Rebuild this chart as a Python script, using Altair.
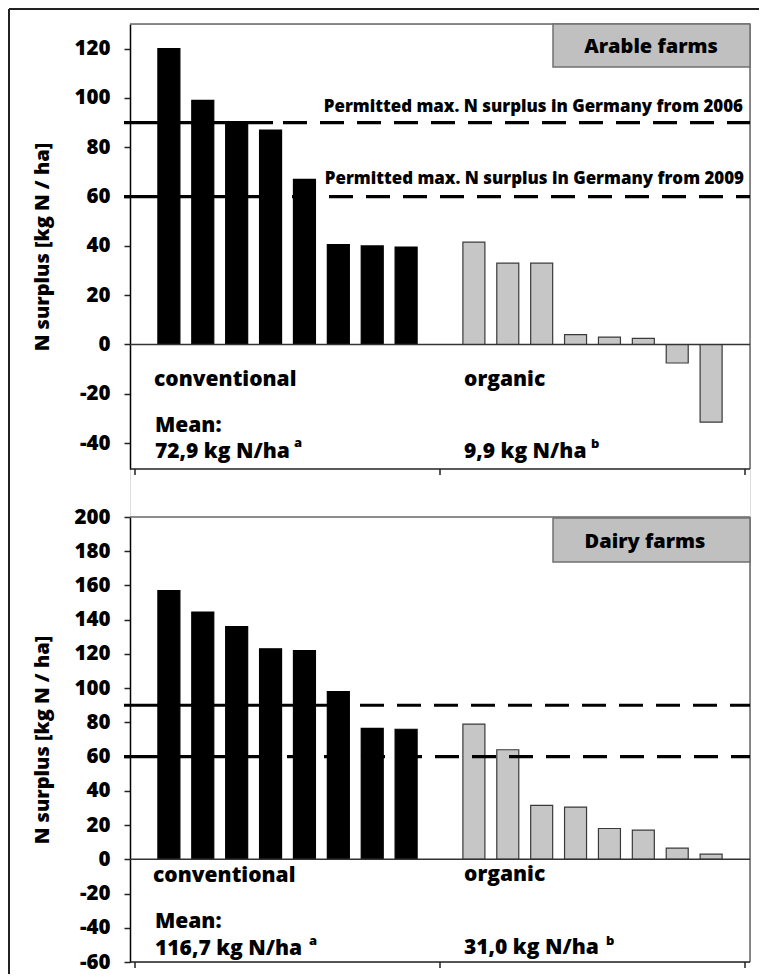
import altair as alt
import pandas as pd

# ---------------- data ----------------
systems = ["conventional", "organic"]
panel_titles = ["Arable farms", "Dairy farms"]

arable_conventional = [120, 99, 90, 87, 67, 40.5, 40, 39.5]
arable_organic = [41.5, 33, 33, 4, 3, 2.5, -7.5, -31.5]
dairy_conventional = [157, 144.5, 136, 123, 122, 98, 76.5, 76]
dairy_organic = [79, 64, 31.5, 30.5, 18, 17, 6.5, 3]

limits = [90, 60]
limit_labels = ["Permitted max. N surplus in Germany from 2006",
                "Permitted max. N surplus in Germany from 2009"]

mean_word = "Mean:"
arable_means = ["72,9 kg N/ha", "9,9 kg N/ha"]
dairy_means = ["116,7 kg N/ha", "31,0 kg N/ha"]
mean_letters = ["a", "b"]

arable_ticks = [-40, -20, 0, 20, 40, 60, 80, 100, 120]
dairy_ticks = [-60, -40, -20, 0, 20, 40, 60, 80, 100, 120, 140, 160, 180, 200]
y_title = "N surplus [kg N / ha]"

FONT = "Open Sans"
WEIGHT = 800
TXT = 21
W, H = 620, 938
TOP_DOM, TOP_RNG = [-50.5, 130], [445, 0]
BOT_DOM, BOT_RNG = [-60, 200], [938, 493]

x_scale = alt.Scale(domain=[-1, 17], nice=False, zero=False)


def yscale(dom, rng):
    return alt.Scale(domain=dom, range=rng, nice=False, zero=False)


def bar_frame(conv, org):
    n = len(conv)
    pos = list(range(n)) + [n + 1 + i for i in range(len(org))]
    return pd.DataFrame({
        "pos": pos,
        "value": conv + org,
        "base": [0] * (len(conv) + len(org)),
        "system": [systems[0]] * len(conv) + [systems[1]] * len(org),
    })


def bars(df, dom, rng, ticks):
    return alt.Chart(df).mark_bar(width=22, strokeWidth=1.2).encode(
        x=alt.X("pos:Q", scale=x_scale, axis=None),
        y=alt.Y("value:Q", scale=yscale(dom, rng),
                axis=alt.Axis(values=ticks, orient="left", title=y_title, grid=False,
                              labelExpr="'' + datum.value",
                              domainColor="black", domainWidth=1.5,
                              tickColor="#222", tickWidth=1.5, tickSize=6,
                              labelFont=FONT, labelFontSize=20.5, labelFontWeight=WEIGHT,
                              labelColor="black", labelPadding=14, labelFlush=False,
                              labelOverlap=False,
                              titleFont=FONT, titleFontSize=20, titleFontWeight=WEIGHT,
                              titleColor="black", titleX=-82, titleBaseline="alphabetic",
                              titleAngle=270)),
        y2="base:Q",
        fill=alt.Fill("system:N", scale=alt.Scale(domain=systems, range=["#000000", "#c6c6c6"]), legend=None),
        stroke=alt.Stroke("system:N", scale=alt.Scale(domain=systems, range=["#000000", "#3a3a3a"]), legend=None),
    )


def hline_data(value, dom, rng, x0, x1, **style):
    return alt.Chart(pd.DataFrame({"v": [value]})).mark_rule(**style).encode(
        x=alt.value(x0), x2=alt.value(x1),
        y=alt.Y("v:Q", scale=yscale(dom, rng), axis=None))


def pix_rule(x0, y0, x1, y1, **style):
    return alt.Chart(pd.DataFrame({"d": [0]})).mark_rule(**style).encode(
        x=alt.value(x0), x2=alt.value(x1), y=alt.value(y0), y2=alt.value(y1))


def label(text, x, y, size, align="left"):
    return alt.Chart(pd.DataFrame({"t": [text]})).mark_text(
        align=align, baseline="alphabetic", font=FONT, fontSize=size,
        fontWeight=WEIGHT, color="black").encode(
        x=alt.value(x), y=alt.value(y), text="t:N")


def box(x0, y0, x1, y1):
    return alt.Chart(pd.DataFrame({"d": [0]})).mark_rect(
        fill="#c0c0c0", stroke="#707070", strokeWidth=1.5).encode(
        x=alt.value(x0), x2=alt.value(x1), y=alt.value(y0), y2=alt.value(y1))


def x_ticks(ybase):
    return alt.Chart(pd.DataFrame({"b": [-1, 8, 17]})).mark_rule(color="#222", strokeWidth=1.5).encode(
        x=alt.X("b:Q", scale=x_scale, axis=None), y=alt.value(ybase), y2=alt.value(ybase + 6))


layers = []

# outer figure frame
layers.append(pix_rule(-121, -15, -121, H + 14, color="#222", strokeWidth=2))
layers.append(pix_rule(-121, -15, W + 20, -15, color="#222", strokeWidth=2))

panels = [
    (arable_conventional, arable_organic, TOP_DOM, TOP_RNG, arable_ticks, arable_means,
     [143, 152], [27, 27]),
    (dairy_conventional, dairy_organic, BOT_DOM, BOT_RNG, dairy_ticks, dairy_means,
     [193, 147], [0, 27]),
]

for (conv, org, dom, rng, ticks, means, solid_end, dash_off) in panels:
    top, bottom = rng[1], rng[0]
    # plot frame (top and right)
    layers.append(pix_rule(0, top, W, top, color="#666", strokeWidth=1.5))
    layers.append(pix_rule(W, top, W, bottom, color="#666", strokeWidth=1.5))
    layers.append(bars(bar_frame(conv, org), dom, rng, ticks))
    # zero line
    layers.append(hline_data(0, dom, rng, 0, W, color="#333", strokeWidth=1.5))
    # bottom axis line with category ticks
    layers.append(pix_rule(0, bottom, W, bottom, color="#222", strokeWidth=1.5))
    layers.append(x_ticks(bottom))
    # permitted limits
    for lim, se, off in zip(limits, solid_end, dash_off):
        layers.append(hline_data(lim, dom, rng, -6, se, color="black", strokeWidth=3.2))
        layers.append(hline_data(lim, dom, rng, se, W, color="black", strokeWidth=3.2,
                                 strokeDash=[24, 13], strokeDashOffset=off))

# top panel annotations
layers.append(box(423, 0, W, 43))
layers.append(label(panel_titles[0], 521, 28.7, 20, align="center"))
layers.append(label(limit_labels[0], 613, 87.7, 16.9, align="right"))
layers.append(label(limit_labels[1], 614, 160, 16.9, align="right"))
layers.append(label(systems[0], 24, 362, TXT))
layers.append(label(systems[1], 334, 362, TXT))
layers.append(label(mean_word, 25, 407.5, TXT))
layers.append(label(arable_means[0], 25, 434, TXT))
layers.append(label(mean_letters[0], 164, 423, 13))
layers.append(label(arable_means[1], 334, 434, TXT))
layers.append(label(mean_letters[1], 461, 424, 13))

# bottom panel annotations
layers.append(box(423, 494, W, 538))
layers.append(label(panel_titles[1], 515, 524, 20, align="center"))
layers.append(label(systems[0], 23, 857.5, TXT))
layers.append(label(systems[1], 334, 857, TXT))
layers.append(label(mean_word, 25, 904, TXT))
layers.append(label(dairy_means[0], 25, 931, TXT))
layers.append(label(mean_letters[0], 179, 921, 13))
layers.append(label(dairy_means[1], 334, 930, TXT))
layers.append(label(mean_letters[1], 476, 921, 13))

chart = alt.layer(*layers).resolve_scale(y="independent").properties(
    width=W, height=H,
    autosize=alt.AutoSizeParams(type="none"),
    padding={"left": 122, "top": 16, "right": 9, "bottom": 12},
).configure_view(stroke=None).configure(background="white")

chart.save("out.html", embed_options={"renderer": "svg", "actions": False})
